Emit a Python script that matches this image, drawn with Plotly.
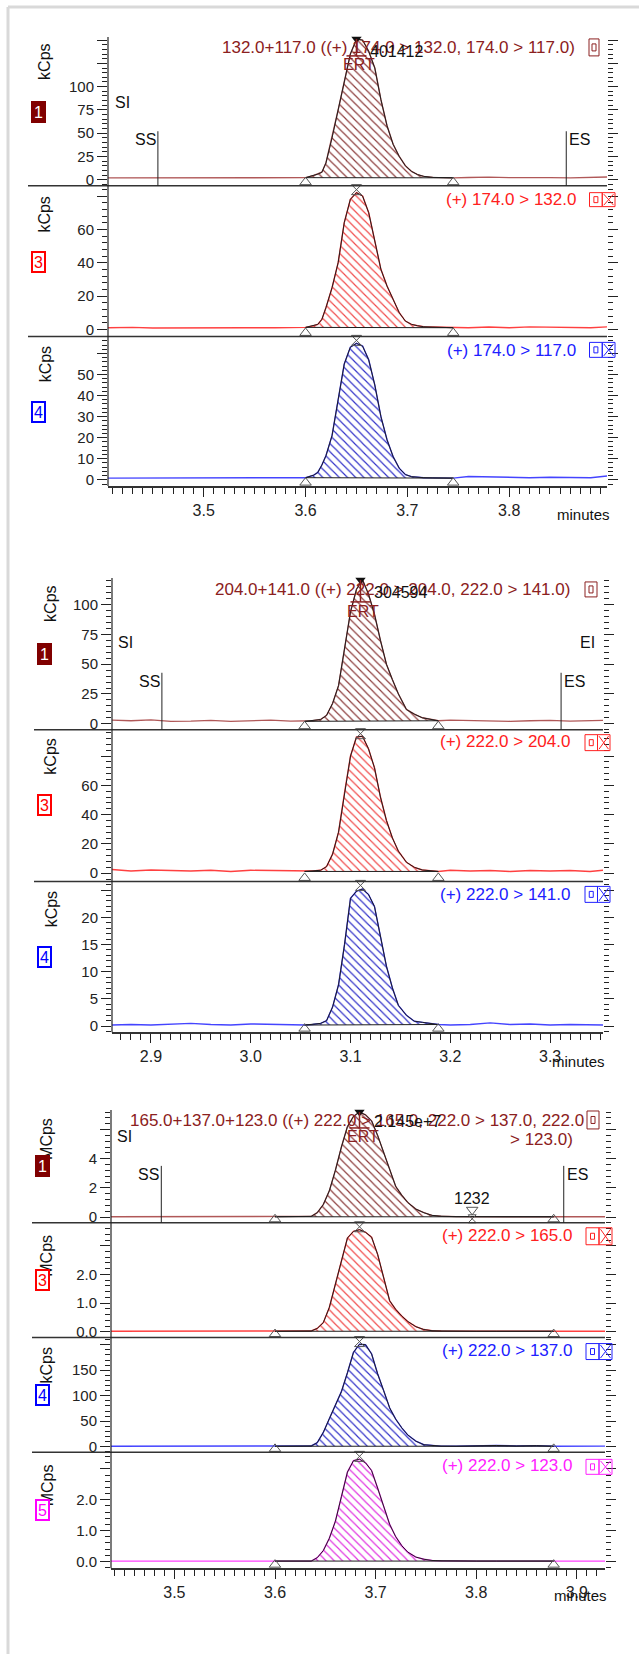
import plotly.graph_objects as go

W, H = 639, 1657
FONT = "Liberation Sans, Arial, sans-serif"

# ------------------------------------------------------------------ data
# Group 1 (minutes / kCps)
G1_TIME = [3.405, 3.43, 3.45, 3.48, 3.51, 3.54, 3.57, 3.59,
           3.600, 3.608, 3.612, 3.616, 3.620, 3.626, 3.632, 3.638, 3.644, 3.650,
           3.656, 3.662, 3.668, 3.674, 3.680, 3.686, 3.692, 3.698, 3.704, 3.710,
           3.716, 3.725, 3.735, 3.745,
           3.76, 3.78, 3.80, 3.82, 3.84, 3.86, 3.88, 3.90]
G1_SUM_132_117 = [2, 2, 1.8, 1.8, 2, 2, 1.8, 2,
                  2.2, 4.5, 6, 8, 18, 45, 75, 105, 135, 151,
                  150, 138, 120, 86, 58, 38, 25, 15, 9, 5.5,
                  3.6, 2.5, 2.2, 2.0,
                  2.4, 2.8, 2.2, 2.5, 2.2, 2.0, 2.5, 3.0]
G1_174_132 = [1.0, 1.2, 0.8, 1.0, 1.0, 1.0, 1.0, 1.0,
              1.2, 2.2, 3.0, 6, 13, 25, 40, 64, 78, 82,
              80, 70, 53, 36, 26, 18, 10, 5, 3, 2.2,
              1.6, 1.4, 1.2, 1.0,
              1.0, 1.4, 1.0, 1.5, 1.2, 1.0, 1.0, 1.6]
G1_174_117 = [0.8, 0.8, 0.8, 0.7, 0.8, 0.7, 0.8, 0.8,
              1.0, 2.2, 3.5, 7, 11.4, 21, 38, 55, 63, 64.8,
              63.5, 57, 45, 30, 19, 11, 5.5, 2.5, 1.5, 1.2,
              1.0, 0.9, 0.8, 0.8,
              1.6, 1.4, 1.2, 1.0, 1.2, 1.0, 1.0, 2.0]
G1_PEAK_START, G1_PEAK_APEX, G1_PEAK_END = 3.600, 3.650, 3.745
G1_SS, G1_ES = 3.455, 3.856
G1_AREA = "401412"

# Group 2 (minutes / kCps)
G2_TIME = [2.861, 2.88, 2.90, 2.92, 2.94, 2.96, 2.98, 3.00, 3.02, 3.04,
           3.054, 3.062, 3.070, 3.076, 3.082, 3.088, 3.094, 3.100, 3.106, 3.112,
           3.118, 3.124, 3.130, 3.136, 3.142, 3.148, 3.156, 3.164, 3.172, 3.180,
           3.188,
           3.20, 3.22, 3.24, 3.26, 3.28, 3.30, 3.32, 3.34, 3.353]
G2_SUM_204_141 = [3.0, 2.5, 3.2, 2.0, 2.2, 2.8, 2.0, 2.5, 3.0, 2.2,
                  2.0, 2.5, 3.5, 7, 17, 32, 63, 94, 113, 121,
                  109, 92, 70, 50, 37, 25, 12, 8, 5, 3.5,
                  2.5,
                  3.0, 2.5, 2.2, 2.0, 2.5, 2.8, 2.2, 2.5, 2.8]
G2_222_204 = [2.5, 1.5, 2.2, 1.8, 1.5, 2.0, 1.2, 2.0, 1.8, 1.5,
              1.2, 1.5, 2.0, 4.5, 13, 28, 55, 80, 93, 93.5,
              85, 72, 52, 36, 24, 15, 7.5, 4, 2.2, 1.5,
              1.2,
              2.0, 1.5, 1.8, 1.2, 1.8, 1.5, 1.8, 1.2, 2.0]
G2_222_141 = [0.2, 0.3, 0.2, 0.3, 0.5, 0.3, 0.2, 0.4, 0.3, 0.2,
              0.2, 0.3, 0.5, 1.0, 3.5, 7.6, 15, 23.5, 24.8, 25.2,
              24.2, 22, 16.5, 11, 7, 3.8, 2.0, 0.9, 0.7, 0.5,
              0.3,
              0.2, 0.3, 0.6, 0.3, 0.4, 0.2, 0.3, 0.2, 0.2]
G2_PEAK_START, G2_PEAK_APEX, G2_PEAK_END = 3.054, 3.110, 3.188
G2_SS, G2_ES = 2.911, 3.311
G2_AREA = "304594"

# Group 3 (minutes / MCps, kCps)
G3_TIME = [3.437, 3.46, 3.48, 3.50, 3.52, 3.54, 3.56, 3.58, 3.600, 3.620,
           3.636, 3.642, 3.648, 3.654, 3.660, 3.666, 3.672, 3.678, 3.684, 3.690,
           3.696, 3.702, 3.708, 3.714, 3.720, 3.726, 3.732, 3.740, 3.748, 3.756,
           3.765, 3.78, 3.80, 3.82, 3.84, 3.86, 3.877, 3.90, 3.915, 3.928]
G3_SUM_165_137_123 = [0.02, 0.02, 0.02, 0.02, 0.02, 0.02, 0.02, 0.02, 0.02, 0.02,
                      0.05, 0.3, 0.86, 1.8, 3.2, 4.8, 6.2, 6.9, 7.2, 7.0,
                      6.6, 5.6, 4.4, 3.2, 2.1, 1.5, 1.0, 0.55, 0.3, 0.12,
                      0.06, 0.03, 0.03, 0.02, 0.02, 0.03, 0.02, 0.02, 0.02, 0.02]
G3_222_165 = [0.02, 0.02, 0.02, 0.02, 0.02, 0.02, 0.02, 0.02, 0.02, 0.02,
              0.03, 0.12, 0.32, 0.85, 1.65, 2.5, 3.27, 3.5, 3.56, 3.47,
              3.3, 2.7, 1.9, 1.08, 0.78, 0.55, 0.36, 0.18, 0.08, 0.04,
              0.03, 0.02, 0.02, 0.02, 0.02, 0.02, 0.02, 0.02, 0.02, 0.02]
G3_222_137 = [1.0, 1.0, 1.0, 1.0, 1.0, 1.0, 1.0, 1.0, 1.0, 1.2,
              1.5, 8, 28, 55, 82, 108, 145, 185, 201, 200,
              182, 143, 110, 76, 54, 37, 23, 11, 4, 2,
              1.2, 1.0, 2.0, 2.5, 1.5, 2.2, 1.0, 1.0, 1.0, 1.2]
G3_222_123 = [0.01, 0.01, 0.01, 0.01, 0.01, 0.01, 0.01, 0.01, 0.01, 0.01,
              0.01, 0.12, 0.35, 0.75, 1.3, 2.1, 2.9, 3.27, 3.32, 3.2,
              2.95, 2.38, 1.78, 1.2, 0.8, 0.51, 0.3, 0.14, 0.07, 0.03,
              0.02, 0.01, 0.01, 0.01, 0.01, 0.01, 0.01, 0.01, 0.01, 0.01]
G3_PEAK_START, G3_PEAK_APEX, G3_PEAK_END = 3.600, 3.684, 3.877
G3_SS, G3_ES = 3.487, 3.887
G3_AREA = "2.145e+7"
G3_SMALL_PEAK_X, G3_SMALL_PEAK_LABEL = 3.796, "1232"

# ------------------------------------------------------------------ layout specs (pixels)
GROUPS = [
    dict(time=G1_TIME, left=108, right=607, sep_left=28, xrange=[3.406, 3.896],
         xticks=[3.5, 3.6, 3.7, 3.8], start=G1_PEAK_START, apex=G1_PEAK_APEX, end=G1_PEAK_END,
         ss=G1_SS, es=G1_ES, area=G1_AREA, unit_x=45, box_x=38, minutes=(583, 515),
         si=(122, 103), ei=None, ev_text_y=140, ev_line_top=131.5,
         ert_bar=56, ert_text=65, area_y=52,
         title=["132.0+117.0 ((+) 174.0 > 132.0, 174.0 > 117.0)"], title_right=[577], title_y=[48]),
    dict(time=G2_TIME, left=112, right=603, sep_left=34, xrange=[2.861, 3.353],
         xticks=[2.9, 3.0, 3.1, 3.2, 3.3], start=G2_PEAK_START, apex=G2_PEAK_APEX, end=G2_PEAK_END,
         ss=G2_SS, es=G2_ES, area=G2_AREA, unit_x=51, box_x=44, minutes=(578, 1063),
         si=(126, 644), ei=(587, 644), ev_text_y=683, ev_line_top=674,
         ert_bar=603, ert_text=613, area_y=594,
         title=["204.0+141.0 ((+) 222.0 > 204.0, 222.0 > 141.0)"], title_right=[572], title_y=[591]),
    dict(time=G3_TIME, left=111, right=605, sep_left=32, xrange=[3.437, 3.928],
         xticks=[3.5, 3.6, 3.7, 3.8, 3.9], start=G3_PEAK_START, apex=G3_PEAK_APEX, end=G3_PEAK_END,
         ss=G3_SS, es=G3_ES, area=G3_AREA, unit_x=47, box_x=42, minutes=(580, 1598),
         si=(124.5, 1139), ei=None, ev_text_y=1177, ev_line_top=1168,
         ert_bar=1130, ert_text=1139, area_y=1124,
         title=["165.0+137.0+123.0 ((+) 222.0 > 165.0, 222.0 > 137.0, 222.0", "> 123.0)"],
         title_right=[586, 575], title_y=[1123, 1142]),
]

C1 = dict(color='#8b2020', line='#b05858', hatch='#8b3a3a', box='#800000')
C3 = dict(color='#ff2020', line='#ff4040', hatch='#f04848', box='#ff0000')
C4 = dict(color='#2020ff', line='#4444ff', hatch='#3030c8', box='#0000ff')
C5 = dict(color='#ff20ff', line='#ff40ff', hatch='#e030e0', box='#ff00ff')

PANELS = [
    dict(group=0, values=G1_SUM_132_117, top=37, bot=186, range=[-6.4, 153.4],
         tickvals=[0, 25, 50, 75, 100, 125, 150], ticktext=['0', '25', '50', '75', '100', '', ''],
         minor=5, unit='kCps', unit_y=62, box='1', box_y=112.5, c=C1, label=None, icon=(589, 599, 39, 56)),
    dict(group=0, values=G1_174_132, top=186, bot=337, range=[-4.2, 86.2],
         tickvals=[0, 20, 40, 60, 80], ticktext=['0', '20', '40', '60', ''],
         minor=4, unit='kCps', unit_y=215, box='3', box_y=262, c=C3,
         label="(+) 174.0 > 132.0", label_right=578, label_y=200, icon=(589.5, 615, 193, 207)),
    dict(group=0, values=G1_174_117, top=337, bot=487, range=[-3, 68.1],
         tickvals=[0, 10, 20, 30, 40, 50, 60], ticktext=['0', '10', '20', '30', '40', '50', ''],
         minor=2, unit='kCps', unit_y=365, box='4', box_y=413, c=C4,
         label="(+) 174.0 > 117.0", label_right=578, label_y=351, icon=(589.5, 615, 343, 358)),
    dict(group=1, values=G2_SUM_204_141, top=579, bot=731, range=[-5, 122.5],
         tickvals=[0, 25, 50, 75, 100], ticktext=['0', '25', '50', '75', '100'],
         minor=5, unit='kCps', unit_y=605, box='1', box_y=655, c=C1, label=None, icon=(585, 597, 583, 598)),
    dict(group=1, values=G2_222_204, top=731, bot=883, range=[-5.6, 98],
         tickvals=[0, 20, 40, 60, 80], ticktext=['0', '20', '40', '60', ''],
         minor=4, unit='kCps', unit_y=758, box='3', box_y=806, c=C3,
         label="(+) 222.0 > 204.0", label_right=572, label_y=743, icon=(585, 610, 736, 752)),
    dict(group=1, values=G2_222_141, top=883, bot=1034, range=[-1.1, 26.6],
         tickvals=[0, 5, 10, 15, 20, 25], ticktext=['0', '5', '10', '15', '20', ''],
         minor=1, unit='kCps', unit_y=911, box='4', box_y=959, c=C4,
         label="(+) 222.0 > 141.0", label_right=572, label_y=896, icon=(585, 610, 888, 904)),
    dict(group=2, values=G3_SUM_165_137_123, top=1112, bot=1225, range=[-0.39, 7.34],
         tickvals=[0, 2, 4, 6], ticktext=['0', '2', '4', ''],
         minor=0.4, unit='MCps', unit_y=1141, box='1', box_y=1168, c=C1, label=None, icon=(587, 599, 1113, 1131)),
    dict(group=2, values=G3_222_165, top=1225, bot=1340, range=[-0.2, 3.8],
         tickvals=[0, 1, 2, 3], ticktext=['0.0', '1.0', '2.0', ''],
         minor=0.2, unit='MCps', unit_y=1258, box='3', box_y=1282, c=C3,
         label="(+) 222.0 > 165.0", label_right=574, label_y=1238, icon=(586, 612, 1230, 1247)),
    dict(group=2, values=G3_222_137, top=1340, bot=1455, range=[-11, 214],
         tickvals=[0, 50, 100, 150, 200], ticktext=['0', '50', '100', '150', ''],
         minor=10, unit='kCps', unit_y=1368, box='4', box_y=1398, c=C4,
         label="(+) 222.0 > 137.0", label_right=574, label_y=1353, icon=(586, 612, 1346, 1362)),
    dict(group=2, values=G3_222_123, top=1455, bot=1571, range=[-0.22, 3.54],
         tickvals=[0, 1, 2, 3], ticktext=['0.0', '1.0', '2.0', ''],
         minor=0.2, unit='MCps', unit_y=1488, box='5', box_y=1513, c=C5,
         label="(+) 222.0 > 123.0", label_right=574, label_y=1468, icon=(586, 612, 1462, 1477)),
]

# ------------------------------------------------------------------ helpers
def px(x):
    return x / W


def py(y):
    return 1 - y / H


shapes, annos = [], []


def pline(x0, y0, x1, y1, color='#222', width=1):
    shapes.append(dict(type='line', xref='paper', yref='paper', x0=px(x0), y0=py(y0),
                       x1=px(x1), y1=py(y1), line=dict(color=color, width=width)))


def prect(x0, y0, x1, y1, color, width=1):
    shapes.append(dict(type='rect', xref='paper', yref='paper', x0=px(x0), y0=py(y0),
                       x1=px(x1), y1=py(y1), line=dict(color=color, width=width)))


def ptext(x, y, text, color='#111', size=16, xanchor='center', yanchor='middle', **kw):
    annos.append(dict(x=px(x), y=py(y), xref='paper', yref='paper', text=text, showarrow=False,
                      xanchor=xanchor, yanchor=yanchor, font=dict(family=FONT, size=size, color=color), **kw))


def to_px(g, xv):
    return g['left'] + (xv - g['xrange'][0]) / (g['xrange'][1] - g['xrange'][0]) * (g['right'] - g['left'])


def yval(p, pix):
    r0, r1 = p['range']
    return r1 - (pix - p['top']) / (p['bot'] - p['top']) * (r1 - r0)


# outer light frame
pline(8, 7, 639, 7, color='#d9d9d9', width=3)
pline(8, 7, 8, 1657, color='#d9d9d9', width=3)

fig = go.Figure()
layout = dict(width=W, height=H, margin=dict(l=0, r=0, t=0, b=0, pad=0), autosize=False,
              paper_bgcolor='white', plot_bgcolor='rgba(0,0,0,0)', showlegend=False,
              font=dict(family=FONT, size=15, color='#222'))

last_in_group = {}
for i, p in enumerate(PANELS):
    last_in_group[p['group']] = i
first_in_group = {}
for i, p in enumerate(PANELS):
    first_in_group.setdefault(p['group'], i)

for i, p in enumerate(PANELS):
    n = i + 1
    g = GROUPS[p['group']]
    xname = 'x' if n == 1 else f'x{n}'
    yname = 'y' if n == 1 else f'y{n}'
    xkey = 'xaxis' if n == 1 else f'xaxis{n}'
    ykey = 'yaxis' if n == 1 else f'yaxis{n}'
    is_bottom = last_in_group[p['group']] == i
    is_first = first_in_group[p['group']] == i
    bn = last_in_group[p['group']] + 1
    bottom_x = 'x' if bn == 1 else f'x{bn}'
    c = p['c']
    t, v = g['time'], p['values']

    # chromatogram trace
    fig.add_trace(go.Scatter(x=t, y=v, mode='lines', line=dict(color=c['line'], width=1.4),
                             xaxis=xname, yaxis=yname, hoverinfo='skip'))
    # integrated peak (hatched)
    s, e = t.index(g['start']), t.index(g['end'])
    fig.add_trace(go.Scatter(x=t[s:e + 1] + [t[s]], y=v[s:e + 1] + [v[s]], mode='lines',
                             fill='toself', fillcolor='rgba(255,255,255,0)',
                             fillpattern=dict(shape='\\', fgcolor=c['hatch'], bgcolor='rgba(255,255,255,0)',
                                              size=5.8, solidity=0.2, fillmode='replace'),
                             line=dict(color='#1e1e1e', width=1),
                             xaxis=xname, yaxis=yname, hoverinfo='skip'))
    # integration boundary markers
    yb = yval(p, p['bot'] - 3.5)
    fig.add_trace(go.Scatter(x=[g['start'], g['end']], y=[yb, yb], mode='markers',
                             marker=dict(symbol='triangle-up-open', size=10, color='#555', line=dict(width=1)),
                             cliponaxis=False, xaxis=xname, yaxis=yname, hoverinfo='skip'))
    if is_first:
        fig.add_trace(go.Scatter(x=[g['apex']], y=[yval(p, p['top'] + 2)], mode='markers',
                                 marker=dict(symbol='triangle-down', size=9, color='#111'),
                                 cliponaxis=False, xaxis=xname, yaxis=yname, hoverinfo='skip'))
    else:
        fig.add_trace(go.Scatter(x=[g['apex']], y=[yval(p, p['top'] + 4)], mode='markers',
                                 marker=dict(symbol='hourglass-open', size=10, color='#555', line=dict(width=1)),
                                 cliponaxis=False, xaxis=xname, yaxis=yname, hoverinfo='skip'))

    # axes
    xa = dict(domain=[px(g['left']), px(g['right'])], range=g['xrange'], anchor=yname,
              showgrid=False, zeroline=False, fixedrange=True)
    if is_bottom:
        xa.update(showline=True, linecolor='#333', linewidth=1.5, ticks='outside', ticklen=9,
                  tickwidth=1, tickcolor='#222', tickmode='array', tickvals=g['xticks'],
                  ticktext=[f'{tv:.1f}' for tv in g['xticks']],
                  tickfont=dict(family=FONT, size=16, color='#222'),
                  minor=dict(ticks='outside', ticklen=6, tickmode='linear', tick0=0, dtick=0.01,
                             tickcolor='#222', showgrid=False))
    else:
        xa.update(matches=bottom_x, showline=False, ticks='', showticklabels=False)
    layout[xkey] = xa
    layout[ykey] = dict(domain=[py(p['bot']), py(p['top'])], range=p['range'], anchor=xname,
                        showgrid=False, zeroline=False, showline=False, mirror='allticks',
                        ticks='outside', ticklen=10, tickwidth=1, tickcolor='#222',
                        tickmode='array', tickvals=p['tickvals'], ticktext=p['ticktext'],
                        tickfont=dict(family=FONT, size=15, color='#222'),
                        minor=dict(ticks='outside', ticklen=5, tickmode='linear', tick0=0,
                                   dtick=p['minor'], tickcolor='#222', showgrid=False),
                        fixedrange=True)

    # separators
    if not is_bottom:
        pline(g['sep_left'], p['bot'], g['right'], p['bot'], color='#333', width=1.5)

    # unit title and channel box
    ptext(g['unit_x'], p['unit_y'], p['unit'], color='#111', size=16, textangle=-90)
    if p['box'] == '1':
        ptext(g['box_x'], p['box_y'], p['box'], color='white', size=16, bgcolor=c['box'],
              bordercolor=c['box'], borderwidth=1, borderpad=1, width=11, height=18)
    else:
        ptext(g['box_x'], p['box_y'], p['box'], color=c['box'], size=16, bgcolor='white',
              bordercolor=c['box'], borderwidth=2, borderpad=1, width=9, height=16)

    # right-side label and icons
    x0, x1, y0, y1 = p['icon']
    if p['label'] is not None:
        ptext(p['label_right'], p['label_y'], p['label'], color=c['color'], size=17, xanchor='right')
        xm = (x0 + x1) / 2
        prect(x0, y0, xm, y1, c['color'])
        cx, cy = (x0 + xm) / 2, (y0 + y1) / 2
        prect(cx - 2, cy - 3, cx + 2, cy + 3, c['color'])
        prect(xm, y0, x1, y1, c['color'])
        pline(xm + 1.5, y0 + 1.5, x1 - 1.5, y1 - 1.5, color=c['color'])
        pline(xm + 1.5, y1 - 1.5, x1 - 1.5, y0 + 1.5, color=c['color'])
    else:
        prect(x0, y0, x1, y1, c['color'])
        cx, cy = (x0 + x1) / 2, (y0 + y1) / 2
        prect(cx - 2, cy - 3.5, cx + 2, cy + 3.5, c['color'])

    # first panel decorations: header, events, ERT
    if is_first:
        for txt, xr, yy in zip(g['title'], g['title_right'], g['title_y']):
            ptext(xr, yy, txt, color=c['color'], size=17, xanchor='right')
        ptext(g['si'][0], g['si'][1], 'SI', size=16)
        if g['ei'] is not None:
            ptext(g['ei'][0], g['ei'][1], 'EI', size=16)
        for ev, name, anch in ((g['ss'], 'SS', 'right'), (g['es'], 'ES', 'left')):
            xp = to_px(g, ev)
            pline(xp, g['ev_line_top'], xp, p['bot'], color='#222', width=1)
            ptext(xp + (1 if anch == 'left' else 0), g['ev_text_y'], name, size=16, xanchor=anch)
        ax_px = to_px(g, g['apex'])
        pline(ax_px, p['top'] + 2, ax_px, g['ert_bar'], color='#8b2020', width=1.5)
        pline(ax_px - 10, g['ert_bar'], ax_px + 10, g['ert_bar'], color='#8b2020', width=1.5)
        ptext(ax_px + 3, g['ert_text'], 'ERT', color='#8b2020', size=16)
        ptext(ax_px + 12, g['area_y'], g['area'], color='#111', size=16, xanchor='left')

    # left axis line for the group
    if is_bottom:
        top = PANELS[first_in_group[p['group']]]['top']
        pline(g['left'], top, g['left'], p['bot'], color='#222', width=1.2)
        ptext(g['minutes'][0], g['minutes'][1], 'minutes', size=15)

# small extra peak in group 3, panel 1
g3, p31 = GROUPS[2], PANELS[6]
fig.add_trace(go.Scatter(x=[G3_SMALL_PEAK_X], y=[yval(p31, 1212)], mode='markers',
                         marker=dict(symbol='triangle-down-open', size=10, color='#555', line=dict(width=1)),
                         cliponaxis=False, xaxis='x7', yaxis='y7', hoverinfo='skip'))
fig.add_trace(go.Scatter(x=[G3_SMALL_PEAK_X], y=[yval(p31, 1221)], mode='markers',
                         marker=dict(symbol='hourglass-open', size=8, color='#555', line=dict(width=1)),
                         cliponaxis=False, xaxis='x7', yaxis='y7', hoverinfo='skip'))
ptext(to_px(g3, G3_SMALL_PEAK_X), 1201, G3_SMALL_PEAK_LABEL, size=16)

layout['shapes'] = shapes
layout['annotations'] = annos
fig.update_layout(**layout)

fig.write_html("out.html", config=dict(displayModeBar=False),
               post_script="document.body.style.margin='0';document.body.style.overflow='hidden';")
